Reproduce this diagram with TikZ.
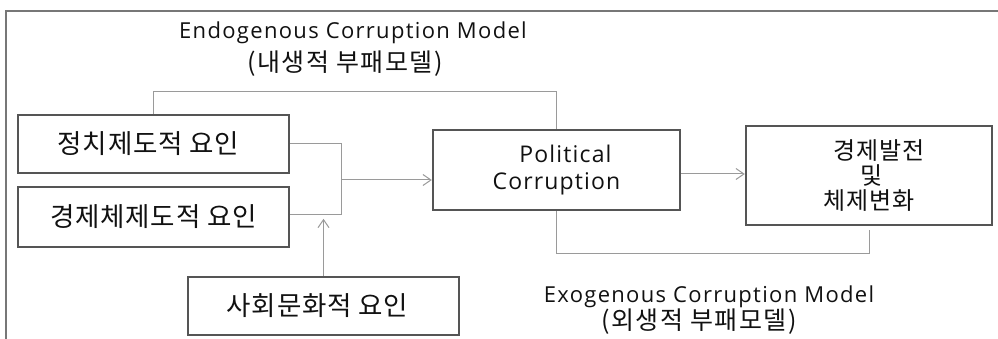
\documentclass[tikz,border=0pt]{standalone}
\usepackage{fontspec}
\setmainfont{Open Sans}
\newfontfamily\kr{Noto Sans CJK KR}
\usetikzlibrary{arrows.meta}
\definecolor{boxgray}{HTML}{555555}
\definecolor{linegray}{HTML}{9A9A9A}
\definecolor{framegray}{HTML}{777777}
\definecolor{ink}{HTML}{111111}
\tikzset{
  box/.style={draw=boxgray, line width=2.4pt, fill=white, inner sep=0pt, text=ink, align=center},
  link/.style={draw=linegray, line width=1pt},
  arr/.style={link, -{Straight Barb[length=8pt,width=11pt,line width=1pt]}},
  frameline/.style={draw=framegray, line width=1.8pt},
  lbl/.style={text=ink, inner sep=0pt, align=center},
  krbox/.style={font=\kr\fontsize{26.5}{30}\selectfont\addfontfeature{LetterSpace=3}},
  krlbl/.style={font=\kr\fontsize{25}{28}\selectfont\addfontfeature{LetterSpace=6}},
  enlbl/.style={font=\fontsize{22}{24}\selectfont\addfontfeature{LetterSpace=6}},
}
\begin{document}
\begin{tikzpicture}[x=1pt,y=-1pt]
\useasboundingbox (0,0) rectangle (998,339);
% open outer frame
\draw[frameline] (6,339) -- (6,11) -- (998,11);

% factor boxes
\node[box, krbox, minimum width=271pt, minimum height=58pt] (b1) at (153.5,144) {정치제도적 요인\hspace*{10pt}};
\node[box, krbox, minimum width=271pt, minimum height=60pt] (b2) at (153.5,217) {경제체제도적 요인};
\node[box, krbox, minimum width=271pt, minimum height=58pt] (b3) at (323.5,306) {사회문화적 요인\hspace*{12pt}};

% corruption and outcome boxes
\node[box, minimum width=247pt, minimum height=80pt,
      font=\fontsize{23}{27}\selectfont\addfontfeature{LetterSpace=5}] (pc) at (556.5,170) {\hspace*{18pt}Political\\Corruption};
\node[box, minimum width=246pt, minimum height=99pt,
      font=\kr\fontsize{24}{25}\selectfont\addfontfeature{LetterSpace=3}] (out) at (869,175.5) {\hspace*{20pt}경제발전\\\hspace*{6pt}및\\체제변화};

% model labels
\node[lbl, enlbl] (endo1) at (353,33) {Endogenous Corruption Model};
\node[lbl, krlbl] (endo2) at (345,64) {(내생적 부패모델)};
\node[lbl, enlbl] (exo1) at (709,297) {Exogenous Corruption Model};
\node[lbl, krlbl] (exo2) at (699,322) {(외생적 부패모델)};

% junctions
\coordinate (j1) at (341,180);
\coordinate (j2) at (341,214);

% connectors
\draw[link] (b1.north) -- ++(0,-22) -| (pc.north);
\draw[link] (b1.east) -| (j2) -- (j2 -| b2.east);
\draw[arr] (j1) -- (j1 -| pc.west);
\draw[arr] (b3.north) -- ++(0,-57);
\draw[arr] ([yshift=-4pt]pc.east) -- ([yshift=-4pt]pc.east -| out.west);
\draw[link, shorten >=4pt] (pc.south) -- ++(0,42) -| (out.south);
\end{tikzpicture}
\end{document}
